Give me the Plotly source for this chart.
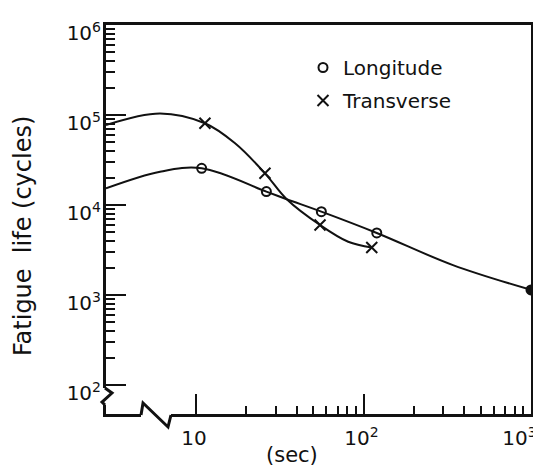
import plotly.graph_objects as go

# ---- data ----
long_t = [2.9, 10.8, 26.3, 56, 120, 1000]
long_n = [15300, 25600, 14100, 8440, 4890, 1140]
trans_t = [2.9, 11.3, 25.8, 55, 112]
trans_n = [77500, 80900, 22500, 6000, 3370]

# hand-drawn fitted curves
long_curve_t = [2.9, 6.1, 10.8, 26.3, 34.8, 56, 120, 342, 1000]
long_curve_n = [15300, 23400, 25600, 14100, 11600, 8440, 4890, 2150, 1140]
trans_curve_t = [2.9, 6.1, 11.3, 17.1, 25.8, 34.8, 55, 81, 112]
trans_curve_n = [77500, 104000, 80900, 48500, 22500, 11600, 6000, 3910, 3370]

x_tickvals = [10, 100, 1000]
x_ticktext = ["10", "10<sup>2</sup>", "10<sup>3</sup>\u00a0\u00a0\u00a0"]
x_minor = [20, 30, 40, 50, 60, 70, 80, 90, 200, 300, 400, 500, 600, 700, 800, 900]
y_tickvals = [100, 1000, 10000, 100000, 1000000]
y_ticktext = ["10<sup>2</sup>", "10<sup>3</sup>", "10<sup>4</sup>", "10<sup>5</sup>", "10<sup>6</sup>"]
y_minor = [m * 10 ** e for e in (2, 3, 4, 5) for m in range(2, 10)]

# page has an 8px body margin; plot area in page pixels: 106..531 x 25..414
OFF = 8
W, H = 541 - OFF, 469 - OFF
PL, PT, PR, PB = 106, 25, 531, 414
L, T = PL - OFF, PT - OFF
R, B = W - (PR - OFF), H - (PB - OFF)
PW, PH = PR - PL, PB - PT


def px(x, y):
    """page pixel -> paper coordinates"""
    return (x - PL) / PW, (PB - y) / PH


FONT = "DejaVu Sans"
INK = "#111111"

fig = go.Figure()
fig.add_trace(go.Scatter(x=long_curve_t, y=long_curve_n, mode="lines",
                         line=dict(color=INK, width=2, shape="spline", smoothing=1),
                         showlegend=False, hoverinfo="skip", cliponaxis=False))
fig.add_trace(go.Scatter(x=trans_curve_t, y=trans_curve_n, mode="lines",
                         line=dict(color=INK, width=2, shape="spline", smoothing=1),
                         showlegend=False, hoverinfo="skip", cliponaxis=False))
fig.add_trace(go.Scatter(x=long_t, y=long_n, mode="markers", name="Longitude",
                         legendgroup="a",
                         marker=dict(symbol=["circle-open"] * 5 + ["circle"], size=9,
                                     color=INK, line=dict(color=INK, width=2)),
                         cliponaxis=False))
fig.add_trace(go.Scatter(x=trans_t, y=trans_n, mode="markers", name="Transverse",
                         legendgroup="b",
                         marker=dict(symbol="x-thin", size=11, color=INK,
                                     line=dict(color=INK, width=2)),
                         cliponaxis=False))

shapes = []
# x-axis break
x0, y0 = px(141, 410)
x1, y1 = px(171, 419)
shapes.append(dict(type="rect", xref="paper", yref="paper", x0=x0, x1=x1, y0=y0, y1=y1,
                   fillcolor="white", line=dict(width=0), layer="above"))
pts = [px(141, 415), px(143, 403), px(168, 427), px(171, 415)]
path = "M " + " L ".join(f"{a:.4f},{b:.4f}" for a, b in pts)
shapes.append(dict(type="path", xref="paper", yref="paper", path=path,
                   line=dict(color=INK, width=3), layer="above"))
# y-axis break
x0, y0 = px(100, 388)
x1, y1 = px(110, 405)
shapes.append(dict(type="rect", xref="paper", yref="paper", x0=x0, x1=x1, y0=y0, y1=y1,
                   fillcolor="white", line=dict(width=0), layer="above"))
pts = [px(105, 388), px(112, 393), px(102, 402), px(105, 405)]
path = "M " + " L ".join(f"{a:.4f},{b:.4f}" for a, b in pts)
shapes.append(dict(type="path", xref="paper", yref="paper", path=path,
                   line=dict(color=INK, width=3), layer="above"))

ax, ay = px(23, 236)
sx, sy = px(292, 455)
annotations = [
    dict(text="Fatigue  life (cycles)", x=ax, y=ay, xref="paper", yref="paper",
         textangle=-90, showarrow=False, font=dict(family=FONT, size=24, color=INK),
         xanchor="center", yanchor="middle"),
    dict(text="(sec)", x=sx, y=sy, xref="paper", yref="paper", showarrow=False,
         font=dict(family=FONT, size=21, color=INK), xanchor="center", yanchor="middle"),
]

lx, ly = px(303, 48)
fig.update_layout(
    width=W, height=H,
    margin=dict(l=L, r=R, t=T, b=B, autoexpand=False),
    paper_bgcolor="white", plot_bgcolor="white",
    font=dict(family=FONT, size=20, color=INK),
    showlegend=True,
    legend=dict(x=lx, y=ly, xanchor="left", yanchor="top", bgcolor="rgba(0,0,0,0)",
                font=dict(family=FONT, size=20, color=INK), tracegroupgap=4,
                borderwidth=0),
    shapes=shapes,
    annotations=annotations,
    xaxis=dict(type="log", range=[0.4624, 3.0], showgrid=False, zeroline=False,
               automargin=False, ticklabeloverflow="allow",
               showline=True, mirror=True, linecolor=INK, linewidth=3,
               ticks="inside", ticklen=20, tickwidth=1.5, tickcolor=INK,
               tickmode="array", tickvals=x_tickvals, ticktext=x_ticktext,
               ticklabelstandoff=4, ticklabelshift=-2,
               minor=dict(tickmode="array", tickvals=x_minor, ticks="inside",
                          ticklen=8, tickwidth=1.5, tickcolor=INK, showgrid=False),
               tickfont=dict(family=FONT, size=20, color=INK)),
    yaxis=dict(type="log", range=[1.678, 6.0], showgrid=False, zeroline=False,
               automargin=False, ticklabeloverflow="allow",
               showline=True, mirror=True, linecolor=INK, linewidth=3,
               ticks="inside", ticklen=20, tickwidth=1.5, tickcolor=INK,
               tickmode="array", tickvals=y_tickvals, ticktext=y_ticktext,
               ticklabelshift=8, ticklabelstandoff=-2,
               minor=dict(tickmode="array", tickvals=y_minor, ticks="inside",
                          ticklen=9, tickwidth=1.5, tickcolor=INK, showgrid=False),
               tickfont=dict(family=FONT, size=20, color=INK)),
)

fig.write_html("out.html")
